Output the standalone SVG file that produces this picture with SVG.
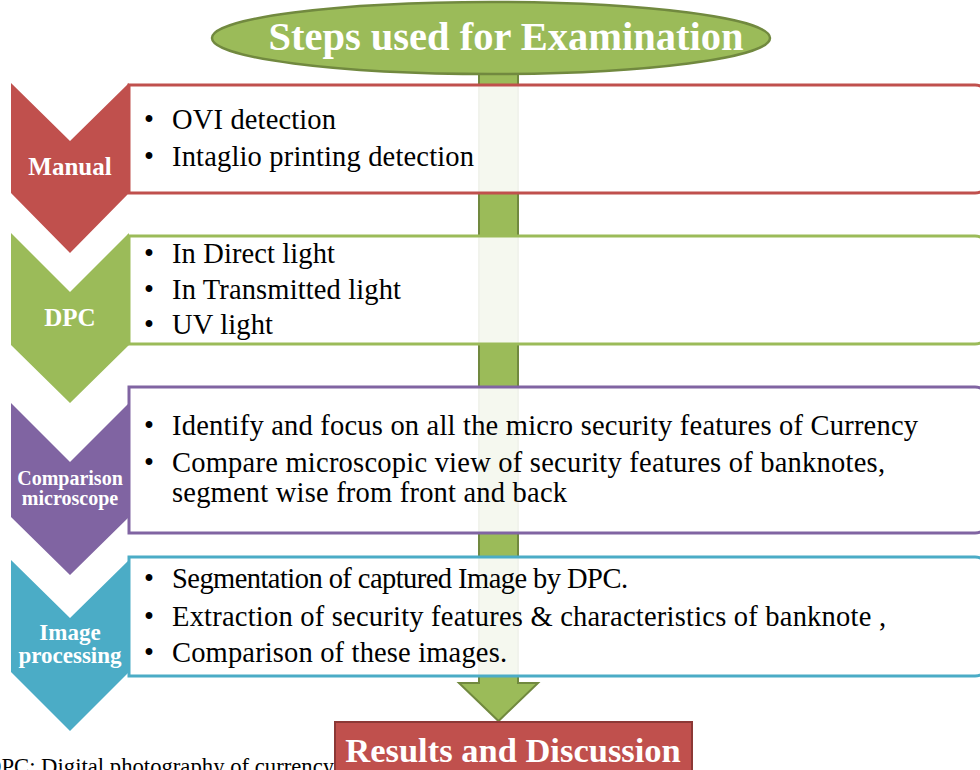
<svg xmlns="http://www.w3.org/2000/svg" width="980" height="770" viewBox="0 0 980 770">
<style>
.box{fill:#ffffff;fill-opacity:0.9;stroke-width:3}
.item{font-family:"Liberation Serif","Times New Roman",serif;font-size:28.5px;fill:#000000}
.lab{font-family:"Liberation Serif","Times New Roman",serif;font-weight:bold;fill:#ffffff;text-anchor:middle}
.chev{stroke:none}
</style>
<rect width="980" height="770" fill="#ffffff"/>
<g id="connectors">
<path d="M479,60 V683 H459 L498.5,721 L538,683 H518 V60 Z" fill="#9BBB59" stroke="#71893F" stroke-width="2"/>
</g>
<g id="manual">
<path class="box" d="M129,85 H975 Q985,85 985,95 V183 Q985,193 975,193 H129 Z" stroke="#C0504D"/>
<path class="chev" d="M11,83 L70,141 L129,83 L129,193 L70,253 L11,193 Z" fill="#C0504D"/>
<text class="lab" x="70" y="175" font-size="25">Manual</text>
<text class="item" x="144" y="129">•</text><text class="item" x="172" y="129" textLength="164" lengthAdjust="spacing">OVI detection</text>
<text class="item" x="144" y="166">•</text><text class="item" x="172" y="166" textLength="302" lengthAdjust="spacing">Intaglio printing detection</text>
</g>
<g id="dpc">
<path class="box" d="M129,236 H975 Q985,236 985,246 V334 Q985,344 975,344 H129 Z" stroke="#9BBB59"/>
<path class="chev" d="M11,233 L70,292 L129,233 L129,345 L70,403 L11,345 Z" fill="#9BBB59"/>
<text class="lab" x="70" y="326" font-size="25">DPC</text>
<text class="item" x="144" y="263">•</text><text class="item" x="172" y="263" textLength="163" lengthAdjust="spacing">In Direct light</text>
<text class="item" x="144" y="299">•</text><text class="item" x="172" y="299" textLength="229" lengthAdjust="spacing">In Transmitted light</text>
<text class="item" x="144" y="334">•</text><text class="item" x="172" y="334" textLength="101" lengthAdjust="spacing">UV light</text>
</g>
<g id="microscope">
<path class="box" d="M129,387 H975 Q985,387 985,397 V523 Q985,533 975,533 H129 Z" stroke="#8064A2"/>
<path class="chev" d="M11,403 L70,462 L129,403 L129,517 L70,575 L11,517 Z" fill="#8064A2"/>
<text class="lab" x="70" y="485" font-size="20">Comparison</text>
<text class="lab" x="70" y="505" font-size="20">microscope</text>
<text class="item" x="144" y="435">•</text><text class="item" x="172" y="435" textLength="746" lengthAdjust="spacing">Identify and focus on all the micro security features of Currency</text>
<text class="item" x="144" y="472">•</text><text class="item" x="172" y="472" textLength="713" lengthAdjust="spacing">Compare microscopic view of security features of banknotes,</text>
<text class="item" x="172" y="502" textLength="395" lengthAdjust="spacing">segment wise from front and back</text>
</g>
<g id="imageprocessing">
<path class="box" d="M129,557 H975 Q985,557 985,567 V666 Q985,676 975,676 H129 Z" stroke="#4BACC6"/>
<path class="chev" d="M11,560 L70,618 L129,560 L129,672 L70,731 L11,672 Z" fill="#4BACC6"/>
<text class="lab" x="70" y="640" font-size="23">Image</text>
<text class="lab" x="70" y="663" font-size="23">processing</text>
<text class="item" x="144" y="588">•</text><text class="item" x="172" y="588" textLength="456" lengthAdjust="spacing">Segmentation of captured Image by DPC.</text>
<text class="item" x="144" y="626">•</text><text class="item" x="172" y="626" textLength="714" lengthAdjust="spacing">Extraction of security features &amp; characteristics of banknote ,</text>
<text class="item" x="144" y="662">•</text><text class="item" x="172" y="662" textLength="335" lengthAdjust="spacing">Comparison of these images.</text>
</g>
<g id="title">
<ellipse cx="491" cy="38" rx="279" ry="36" fill="#9BBB59" stroke="#71893F" stroke-width="2.5"/>
<text class="lab" x="506" y="50" font-size="40.5">Steps used for Examination</text>
</g>
<g id="footnote">
<text x="-15" y="774" font-family="'Liberation Serif','Times New Roman',serif" font-size="22.7" fill="#000000">DPC: Digital photography of currency</text>
</g>
<g id="results">
<rect x="335" y="722" width="357" height="60" fill="#C0504D" stroke="#8C3836" stroke-width="2"/>
<text class="lab" x="513" y="762" font-size="34.5">Results and Discussion</text>
</g>
</svg>
